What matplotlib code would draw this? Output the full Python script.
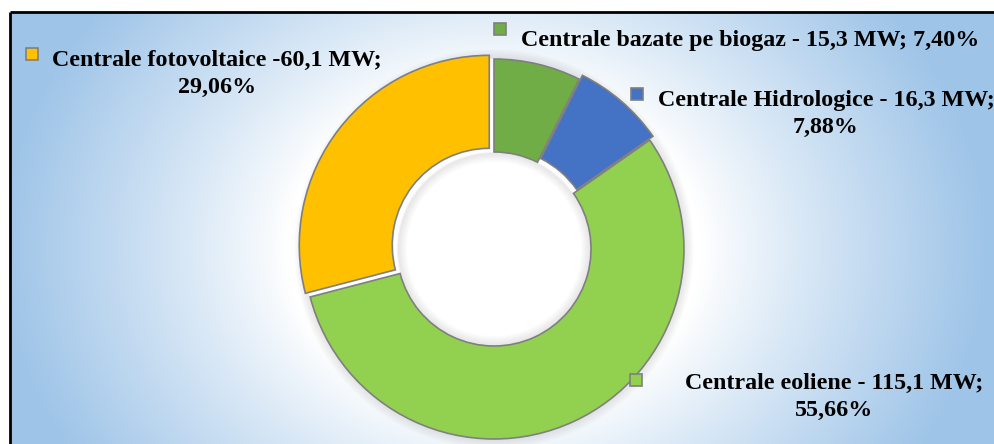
import numpy as np
import matplotlib
matplotlib.use("Agg")
import matplotlib.pyplot as plt
from matplotlib.patches import Circle, Rectangle

# ---- data ----
categories = ["Centrale bazate pe biogaz", "Centrale Hidrologice",
              "Centrale eoliene", "Centrale fotovoltaice"]
power_mw = [15.3, 16.3, 115.1, 60.1]
percent = [7.40, 7.88, 55.66, 29.06]
label_texts = [
    "Centrale bazate pe biogaz - 15,3 MW; 7,40%",
    "Centrale Hidrologice - 16,3 MW;\n7,88%",
    "Centrale eoliene - 115,1 MW;\n55,66%",
    "Centrale fotovoltaice -60,1 MW;\n29,06%",
]
colors = ["#70AD47", "#4472C4", "#92D050", "#FFC000"]
explode = [0, 5, 0, 6]

W, H = 995, 444
fig = plt.figure(figsize=(W / 100, H / 100), dpi=100)
ax = fig.add_axes([0, 0, 1, 1])
ax.set_xlim(0, W)
ax.set_ylim(0, H)
ax.set_aspect("equal")
ax.axis("off")

# background radial gradient (white centre -> light blue edges)
cx, cy = 494, 195
yy, xx = np.mgrid[0:H, 0:W]
d = np.sqrt(((xx - cx) / 520.0) ** 2 + (((H - 1 - yy) - cy) / 420.0) ** 2)
t = np.clip((d - 0.40) / 0.55, 0, 1) ** 0.9
white = np.array([1.0, 1.0, 1.0])
blue = np.array([0.62, 0.77, 0.91])
img = white[None, None, :] * (1 - t[..., None]) + blue[None, None, :] * t[..., None]
img = img[::-1]
ax.imshow(img, extent=(0, W, 0, H), origin="lower", zorder=0, aspect="auto")

# white margin above / left of the frame and frame lines
ax.add_patch(Rectangle((0, H - 12), W, 12, color="white", zorder=1))
ax.add_patch(Rectangle((0, 0), 10, H, color="white", zorder=1))
ax.plot([10, W], [H - 12, H - 12], color="black", lw=2, zorder=2, solid_capstyle="butt")
ax.plot([10, 10], [0, H - 12], color="black", lw=2, zorder=2, solid_capstyle="butt")

R = 190
ring_w = 93
r_in = R - ring_w

# soft shadow outside the ring and inside the hole (thin translucent rings)
for k in range(1, 10):
    ax.add_patch(Circle((cx, cy), R + k, fill=False, ec="gray",
                        lw=1.6, alpha=0.10 * (1 - k / 10), zorder=1.5))
    ax.add_patch(Circle((cx, cy), r_in - k, fill=False, ec="gray",
                        lw=1.6, alpha=0.10 * (1 - k / 10), zorder=1.5))
ax.add_patch(Circle((cx, cy), r_in - 10, color="white", lw=0, zorder=1.4))

wedges, _ = ax.pie(power_mw, colors=colors, startangle=90, counterclock=False,
                   explode=explode, center=(cx, cy), radius=R,
                   wedgeprops=dict(width=ring_w, edgecolor="#7f7f7f", linewidth=1.2),
                   frame=False)
for w in wedges:
    w.set_zorder(3)
ax.set_xlim(0, W)
ax.set_ylim(0, H)

font = dict(family="Liberation Serif", weight="bold", size=17.3, color="black")

# label positions (pixel layout) and legend key squares
label_pos = [(750, H - 40), (826, H - 114), (834, H - 397), (217, H - 74)]
key_pos = [(500, H - 29), (637, H - 94), (636, H - 380), (32, H - 54)]
for txt, (lx, ly), (kx, ky), c in zip(label_texts, label_pos, key_pos, colors):
    ax.text(lx, ly, txt, ha="center", va="center", linespacing=1.4, zorder=5, **font)
    s = 12
    ax.add_patch(Rectangle((kx - s / 2, ky - s / 2), s, s, facecolor=c,
                           edgecolor="#7f7f7f", lw=1.2, zorder=5))

fig.savefig("out.png", dpi=100)
